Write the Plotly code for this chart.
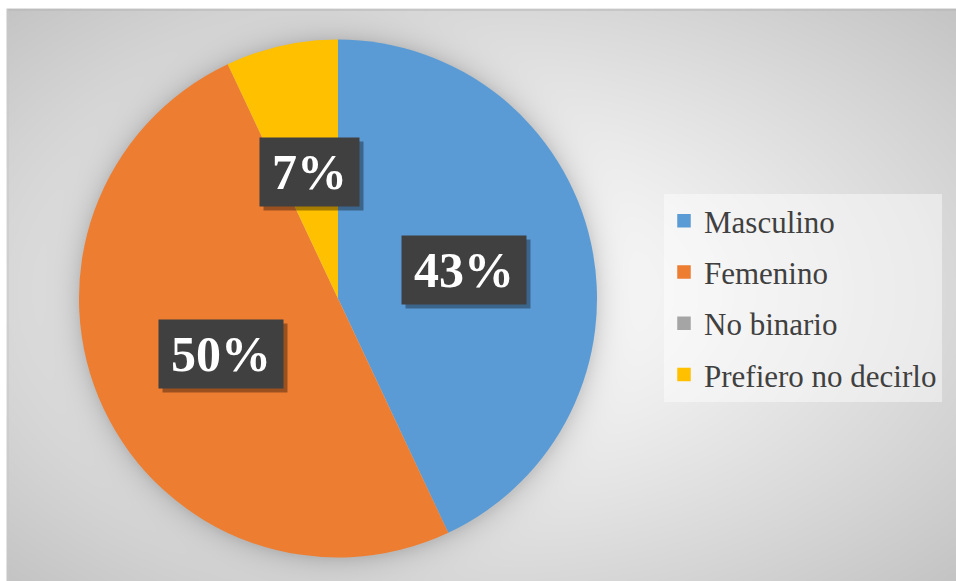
import numpy as np
import plotly.graph_objects as go

# ---- data ----
categories = ["Masculino", "Femenino", "No binario", "Prefiero no decirlo"]
values = [43, 50, 0, 7]
colors = ["#5B9BD5", "#ED7D31", "#A5A5A5", "#FFC000"]

W, H = 956, 581
# pie geometry (pixels)
CX, CY, R = 338.0, 298.5, 259.0

fig = go.Figure()

# ---- background: radial gradient with soft pie shadow (heatmap on hidden axes) ----
step = 3
xs = np.arange(8, W + step, step, dtype=float)
ys = np.arange(10, H + step, step, dtype=float)
XX, YY = np.meshgrid(xs, ys)
bx, by = 480.0, 292.0
dn = np.sqrt(((XX - bx) / (W / 2)) ** 2 + ((YY - by) / (H / 2)) ** 2)
g = 255 - 60 * np.clip(dn / 1.41, 0, 1) ** 1.2
d = np.sqrt((XX - CX) ** 2 + (YY - CY) ** 2)
g = g - 34 * np.exp(-np.clip(d - R, 0, None) / 12.0)
fig.add_trace(go.Heatmap(x=xs, y=ys, z=g, zmin=0, zmax=255,
                         colorscale=[[0, "black"], [1, "white"]],
                         showscale=False, zsmooth="best", hoverinfo="skip",
                         xaxis="x", yaxis="y"))

# ---- pie ----
fig.add_trace(go.Pie(labels=categories, values=values, sort=False,
                     direction="clockwise", rotation=0,
                     marker=dict(colors=colors, line=dict(width=0)),
                     textinfo="none", showlegend=False, hoverinfo="label+percent",
                     domain=dict(x=[(CX - R) / W, (CX + R) / W],
                                 y=[(H - CY - R) / H, (H - CY + R) / H])))

# ---- legend entries (one group each for spacing) ----
for i, (c, col) in enumerate(zip(categories, colors)):
    fig.add_trace(go.Scatter(x=[None], y=[None], mode="markers", name=c,
                             marker=dict(symbol="square", size=12, color=col,
                                         line=dict(color=col, width=1.5)),
                             legendgroup=f"g{i}", showlegend=True,
                             xaxis="x", yaxis="y"))

# ---- data labels ----
total = sum(values)
annotations = []
cum = 0.0
for v in values:
    frac = v / total
    mid = (cum + frac / 2) * 2 * np.pi
    cum += frac
    if v == 0:
        continue
    px = CX + 0.5 * R * np.sin(mid)
    py = CY - 0.5 * R * np.cos(mid)
    txt = f"{round(frac * 100)}%"
    wbox = 22 + 50 * (0.5 * (len(txt) - 1) + 1.0)
    common = dict(x=px / W, y=(H - py) / H, xref="paper", yref="paper",
                  showarrow=False, width=wbox, height=66,
                  xanchor="center", yanchor="middle")
    annotations.append(dict(text=" ", bgcolor="rgba(0,0,0,0.35)",
                            xshift=4, yshift=-4, **common))
    annotations.append(dict(text=f"<b>{txt}</b>", bgcolor="#404040",
                            font=dict(family="Liberation Serif", size=50, color="white"),
                            **common))

fig.update_layout(
    width=W, height=H,
    margin=dict(l=0, r=0, t=0, b=0),
    paper_bgcolor="white", plot_bgcolor="white",
    xaxis=dict(range=[0, W], domain=[0, 1], visible=False, fixedrange=True),
    yaxis=dict(range=[H, 0], domain=[0, 1], visible=False, fixedrange=True),
    showlegend=True,
    legend=dict(x=664 / W, y=1 - 194 / H, xanchor="left", yanchor="top",
                bgcolor="rgba(255,255,255,0.45)", borderwidth=0,
                font=dict(family="Liberation Serif", size=31, color="#404040"),
                tracegroupgap=8, traceorder="grouped"),
    annotations=annotations,
    shapes=[
        dict(type="line", xref="x", yref="y", x0=8, x1=W, y0=10, y1=10,
             line=dict(color="#b5b5b5", width=1), layer="above"),
        dict(type="line", xref="x", yref="y", x0=8, x1=8, y0=10, y1=H,
             line=dict(color="#c8c8c8", width=1), layer="above"),
    ],
)

fig.write_html("out.html")
